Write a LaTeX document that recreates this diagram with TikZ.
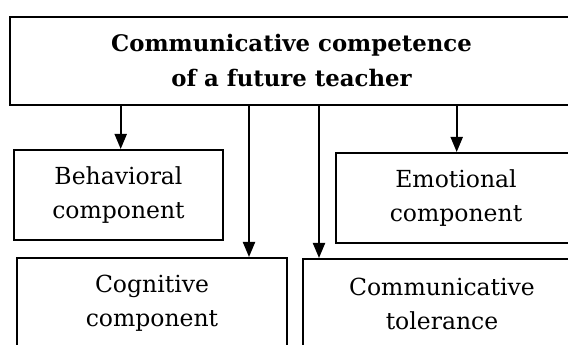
\documentclass[tikz,border=0pt]{standalone}
\usepackage{fontspec}
\setmainfont{DejaVu Serif}
\usetikzlibrary{arrows.meta,positioning}

\begin{document}
\begin{tikzpicture}[
  x=1pt, y=1pt,
  >={Triangle[length=15pt,width=12pt]},
  line width=2pt,
  every node/.style={draw,inner sep=0pt,align=center,font=\fontsize{23.5}{34}\selectfont},
  comp/.style={minimum height=90pt},
  ]
  \useasboundingbox (0,0) rectangle (568,345);
  \clip (0,0) rectangle (568,345);

  \node[minimum width=563pt, minimum height=88pt, font=\bfseries\fontsize{22.8}{35}\selectfont] (C) at (291.5,284) {Communicative competence\\of a future teacher};
  \node[comp, minimum width=209pt] (B) at (118.5,150) {Behavioral\\component};
  \node[comp, minimum width=240pt] (E) at (456,147) {Emotional\\component};
  \node[comp, minimum width=270pt] (G) at (152,42) {Cognitive\\component};
  \node[comp, minimum width=278pt] (T) at (442,41) {Communicative\\tolerance};

  \coordinate (c1) at (120.7,240);
  \coordinate (c2) at (249,240);
  \coordinate (c3) at (319,240);
  \coordinate (c4) at (456.7,240);

  \draw [->] (c1) -- (c1 |- B.north);
  \draw [->] (c2) -- (c2 |- G.north);
  \draw [->] (c3) -- (c3 |- T.north);
  \draw [->] (c4) -- (c4 |- E.north);

\end{tikzpicture}
\end{document}
